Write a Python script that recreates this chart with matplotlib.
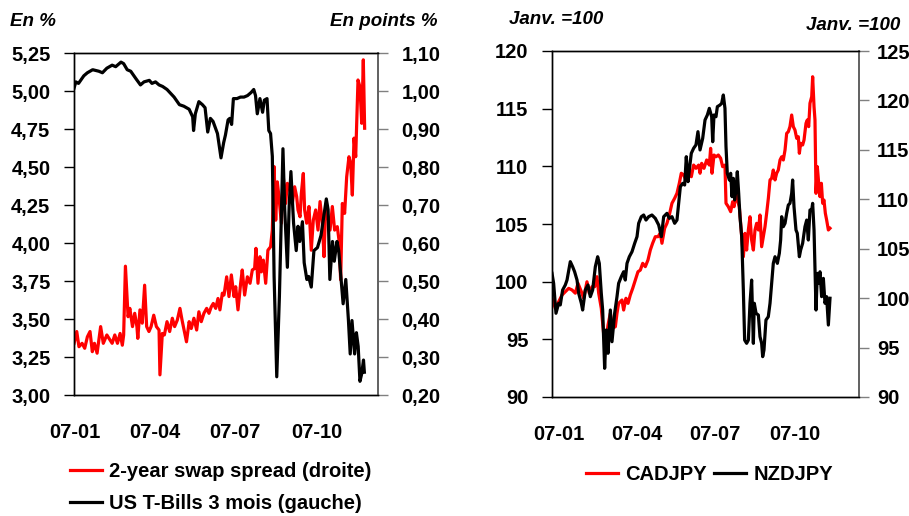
import numpy as np
import matplotlib
matplotlib.use("Agg")
import matplotlib.pyplot as plt
from matplotlib.ticker import FuncFormatter

plt.rcParams['font.family'] = ['Liberation Sans', 'DejaVu Sans']
plt.rcParams['font.weight'] = 'bold'

# x values are days since 2007-01-01
tick_days = [0, 90, 181, 273]
tick_labels = ['07-01', '07-04', '07-07', '07-10']

# US T-Bills 3 mois (left axis, %)
tbill_days = [-1, 1, 4, 10, 14, 20, 27, 31, 36, 42, 46, 52, 55, 59, 63, 69, 74, 78, 84, 87,
              91, 95, 99, 104, 112, 118, 123, 129, 133, 134, 136, 140, 144, 147, 150, 153, 156, 161, 165,
              168, 170, 173, 175, 177, 179, 183, 187, 191, 195, 199, 202, 204, 206, 209, 212, 214, 217,
              219, 221, 223, 225, 228, 231, 233, 235, 237, 240, 242, 244, 247, 250, 252, 254, 257, 259,
              262, 264, 267, 270, 274, 278, 281, 284, 286, 288, 291, 293, 296, 298, 301, 303, 306, 309,
              311, 313, 316, 318, 320, 322, 324, 326, 327]
tbill = [5.02, 5.06, 5.05, 5.10, 5.12, 5.14, 5.13, 5.12, 5.15, 5.17, 5.16, 5.19, 5.18, 5.14, 5.13,
         5.08, 5.04, 5.06, 5.07, 5.05, 5.06, 5.04, 5.03, 5.01, 4.96, 4.91, 4.90, 4.88, 4.83, 4.74,
         4.85, 4.93, 4.91, 4.89, 4.73, 4.82, 4.80, 4.72, 4.56,
         4.66, 4.71, 4.81, 4.82, 4.78, 4.95, 4.95, 4.96, 4.96, 4.97, 4.99, 5.01, 4.97, 4.85, 4.95,
         4.86, 4.94, 4.95, 4.74, 4.72, 4.57, 3.78, 3.12, 3.65, 4.13, 4.62, 4.22, 3.84, 4.24, 4.47,
         4.13, 3.95, 4.11, 4.01, 4.14, 3.87, 3.76, 3.78, 3.71, 3.95, 3.97, 4.05, 4.17, 4.29, 4.22,
         3.76, 4.01, 3.88, 4.01, 3.95, 3.74, 3.60, 3.76, 3.49, 3.27, 3.49, 3.27, 3.41, 3.32, 3.09,
         3.14, 3.23, 3.15]

# 2-year swap spread (right axis, points %)
swap_days = [-1, 2, 4.5, 8, 11, 14, 17, 19.6, 22, 25, 29, 32, 36, 39.5, 42, 45, 48, 51, 53.5, 55,
             57, 60, 62, 65, 67.5, 70, 71, 73.4, 76, 78.7, 81, 83.6, 86, 89, 92, 95, 96, 98.7, 101,
             104, 107, 110, 112.6, 115.6, 118.6, 121, 124, 126, 129, 131.4, 134.4, 137.5, 140, 142.7,
             145.7, 148.8, 151.4, 154, 156.3, 159, 161.6, 163.8, 166.5,
             168.4, 171.4, 174, 176.7, 179.7, 181.6, 184.2, 187.2, 189, 191.7, 194.8, 197.8, 200.4,
             203, 204.5, 206.8, 209, 210.6, 212.8, 215.5, 218, 221, 223, 225, 226.8, 228.6, 230.5,
             233.2, 235.4, 238, 240, 243, 245.6, 248.2, 250.5, 252, 254.3, 255.8, 258, 259.5, 261.8,
             264.4, 267, 269.3, 272, 274.6, 276.9, 279.5, 281.4, 283.3, 285.9, 288.2, 290.8, 293.4,
             296.4, 298.3, 300.2, 302.1, 304.7, 307, 309.6, 311.5, 313.4, 315.3, 317.2, 319.8, 322,
             324, 325.8, 327.3]
swap = [0.336, 0.367, 0.327, 0.336, 0.323, 0.353, 0.367, 0.314, 0.336, 0.310, 0.380, 0.336, 0.358,
        0.345, 0.336, 0.358, 0.336, 0.362, 0.331, 0.358, 0.539, 0.406, 0.428, 0.380, 0.415, 0.380,
        0.349, 0.424, 0.389, 0.489, 0.380, 0.367, 0.380, 0.410, 0.380, 0.371, 0.253, 0.362, 0.358,
        0.393, 0.367, 0.402, 0.380, 0.397, 0.428, 0.397, 0.362, 0.340, 0.393, 0.375, 0.402, 0.371,
        0.419, 0.393, 0.415, 0.428, 0.415, 0.432, 0.441, 0.428, 0.454, 0.424, 0.468,
        0.463, 0.511, 0.459, 0.516, 0.459, 0.485, 0.424, 0.494, 0.529, 0.463, 0.511, 0.494, 0.529,
        0.533, 0.586, 0.494, 0.564, 0.524, 0.555, 0.494, 0.581, 0.590, 0.634, 0.801, 0.660, 0.761,
        0.722, 0.652, 0.774, 0.704, 0.757, 0.739, 0.704, 0.748, 0.722, 0.687, 0.669, 0.731, 0.783,
        0.687, 0.652, 0.696, 0.581, 0.660, 0.687, 0.634, 0.709, 0.652, 0.564, 0.696, 0.669, 0.634,
        0.696, 0.634, 0.643, 0.608, 0.503, 0.704, 0.678, 0.774, 0.827, 0.810, 0.726, 0.876, 0.827,
        1.029, 1.011, 0.915, 1.082, 0.902]

# CADJPY (left axis, Janv.=100)
cad_days = [-8.1, -4.2, -0.4, 3.5, 7.3, 11.2, 15.1, 18.9, 22, 25.9, 28.6, 32.4, 35.1, 38.2, 41.3, 44,
            46, 49, 51.7, 54.5, 56.8, 59.5, 62.2, 65.3, 67.2, 69.1, 73, 74.9, 77.6, 80, 82.6, 85.4,
            88.4, 91.5, 94.2, 97, 100, 103.1, 105.8, 108.5, 111.6, 114.7, 117.4, 119.3, 122.4, 125.1,
            127.8, 130.9, 134, 136.7, 139.4, 141.7, 144.4, 147.1, 150.2, 153.3, 156, 158.7, 161.8,
            163.4, 165.3, 168, 171.1, 174.2, 175.7, 177.3, 179.6, 181.9, 184.6, 187.3, 189.6, 192.3,
            193.5, 196.2, 198.9, 201.2, 202.8, 205.1, 206.6, 208.9, 211.7, 213.6, 215.5, 217.4, 219.4,
            221.3, 223.2, 225.2, 227.1, 229, 231, 232.9, 234.8, 236.8, 238.7, 240.6, 242.6, 244.5,
            246.4, 248.3, 250.3, 252.2, 254.1, 256.1, 258, 259.9, 261.9, 263.8, 265.7, 267.6, 269.6,
            271.5, 273.4, 275.4, 277.3, 278.5, 280, 282.3, 283.9, 286.2, 287.7, 289.3, 290.8, 292.8,
            293.9, 295.5, 296.6, 297.8, 299.3, 300.9, 302.4, 304, 305.5, 307, 308.6, 310.1, 312.1, 314]
cad = [98.56, 97.69, 98.26, 98.84, 99.13, 99.42, 99.28, 99.0, 99.86, 99.13, 98.56, 99.99, 99.0,
       99.56, 99.56, 100.43, 99.0, 97.69, 95.52, 94.94, 96.24, 97.26, 95.96, 96.1, 97.26, 98.12,
       98.41, 97.54, 98.56, 98.12, 98.84, 99.42, 100.14, 100.86, 101.0, 101.59, 101.3, 101.88,
       102.74, 103.33, 103.9, 103.9, 104.2, 103.33, 104.63, 105.06, 105.78, 106.8, 107.23, 107.66,
       108.53, 109.4, 109.25, 108.82, 109.68, 109.1, 110.11, 109.83, 110.11,
       109.4, 110.26, 109.83, 110.55, 110.11, 111.56, 109.4, 110.98, 110.83, 110.98, 110.7, 109.97,
       110.11, 106.8, 106.5, 106.07, 106.93, 106.5, 107.66, 107.08, 106.5, 103.9, 102.16, 104.19,
       102.74, 104.48, 105.63, 103.61, 102.74, 104.48, 105.06, 104.48, 105.78, 103.03, 103.9,
       104.77, 105.93, 107.25, 108.82, 108.96, 109.68, 108.82, 109.4, 109.68, 110.55, 110.83,
       110.55, 111.42, 112.86, 113.0, 113.44, 114.45, 113.44, 113.15, 112.43, 112.57, 111.13, 112.0,
       111.85, 112.28, 113.73, 114.02, 113.44, 115.47, 116.04, 117.77, 115.17, 114.02, 107.66,
       109.97, 108.53, 107.37, 108.53, 106.8, 107.08, 105.93, 105.35, 104.48, 104.63]

# NZDJPY (right axis, Janv.=100)
nzd_days = [-8.1, -6.2, -3.5, -0.4, 1.5, 4.2, 7.3, 9.3, 13.1, 15.8, 18.1, 20.9, 22.8, 25.9, 27.4,
            30.5, 33.6, 36.3, 39, 42.1, 44.8, 46.7, 49, 50.6, 52.9, 54.8, 56.8, 59.5, 61.4, 64.5,
            67.2, 69.1, 72.2, 74.9, 76.8, 78.8, 81.5, 84.6, 87.7, 90.4, 92.3, 95.4, 98.1, 100.8,
            103.9, 107.7, 111.6, 115.5, 118.6, 121.3, 125.1, 127.8, 130.9, 134, 136.7, 138.6, 140.6,
            143.3, 145.6, 147.5, 149.5, 151, 153.3, 156, 158.7, 161,
            163.4, 166.5, 169.2, 171.9, 174.2, 176.9, 178.1, 179.6, 181.9, 183.5, 186.6, 188.5, 190.4,
            192.3, 193.5, 195, 197.4, 198.9, 200.5, 202, 203.5, 205.1, 206.6, 208.2, 209.7, 211.7,
            213.6, 215.1, 217.4, 219.4, 221.3, 223.2, 225.2, 226.3, 228.3, 231, 232.9, 234.8, 236,
            237.5, 239.8, 242.5, 244.5, 246.4, 248.3, 250.3, 253, 255.3, 256.8, 258, 259.9, 261.9,
            263.8, 265.7, 267.6, 269.6, 270.7, 272.3, 274.6, 276.1, 278.5, 280, 282.3, 285, 287,
            288.9, 290.8, 292.8, 293.9, 295.5, 297.8, 299.3, 300.9, 302.4, 304.3, 306.3, 308.2,
            310.1, 312.1, 314]
nzd = [102.51, 101.5, 98.47, 99.48, 99.31, 100.82, 101.33, 101.83, 103.69, 103.18, 102.67, 101.83,
       100.49, 99.48, 98.8, 100.82, 101.33, 100.15, 100.82, 103.18, 104.19, 103.52, 100.49, 98.8,
       92.9, 96.78, 94.42, 98.8, 95.59, 98.47, 100.15, 101.5, 102.17, 102.67, 101.83, 103.52,
       104.19, 104.7, 105.55, 106.22, 107.57, 108.24, 108.41, 107.9, 108.24, 108.41, 108.07, 107.4,
       106.22, 108.24, 108.58, 108.07, 108.24, 107.57, 107.9, 109.59, 111.27, 111.61, 111.44,
       114.31, 111.78, 112.96, 114.65, 115.16, 115.5, 116.84,
       114.99, 116.17, 118.02, 118.53, 119.2, 118.35, 115.82, 118.53, 118.35, 119.37, 119.54,
       119.71, 120.55, 119.2, 115.32, 112.63, 111.95, 112.63, 110.26, 112.12, 109.93, 110.94,
       112.79, 110.6, 108.24, 106.22, 100.82, 95.76, 95.43, 95.76, 99.48, 101.83, 95.43, 99.48,
       98.47, 98.29, 96.1, 95.43, 94.08, 94.75, 97.79, 98.12, 99.48, 101.5, 103.52, 104.19, 103.52,
       104.54, 105.88, 108.24, 107.23, 107.57, 108.58, 109.42, 109.59, 110.6, 111.95, 109.25,
       106.89, 106.56, 104.19, 104.87, 105.55, 107.23, 107.9, 105.88, 108.92, 108.92, 109.59,
       106.89, 98.8, 102.51, 101.5, 102.67, 100.15, 102.0, 99.48, 100.15, 97.28, 99.99]

FS = 14.5
RED = '#ff0000'
LW = 2.3

comma2 = FuncFormatter(lambda v, p: f'{v:.2f}'.replace('.', ','))
int0 = FuncFormatter(lambda v, p: f'{v:.0f}')


def style(ax, axr, xlim, left_ticks, right_ticks, lfmt, rfmt, xpad, rpad):
    ax.set_xlim(*xlim)
    ax.set_xticks(tick_days)
    ax.set_xticklabels(tick_labels)
    ax.tick_params(axis='x', length=0, pad=xpad, labelsize=FS)
    ax.set_ylim(left_ticks[0], left_ticks[-1])
    ax.set_yticks(left_ticks)
    ax.yaxis.set_major_formatter(lfmt)
    ax.tick_params(axis='y', direction='out', length=7, width=1, pad=10,
                   labelsize=FS, color='black')
    axr.set_ylim(right_ticks[0], right_ticks[-1])
    axr.set_yticks(right_ticks)
    axr.yaxis.set_major_formatter(rfmt)
    axr.tick_params(axis='y', direction='out', length=7, width=1, pad=rpad,
                    labelsize=FS, color='#808080')
    for a in (ax, axr):
        for s in ('left', 'top', 'bottom'):
            a.spines[s].set_color('black')
            a.spines[s].set_linewidth(1)
        a.spines['right'].set_color('#606060')
        a.spines['right'].set_linewidth(1.2)


fig = plt.figure(figsize=(9.09, 5.16), dpi=100)

# left panel
ax1 = fig.add_axes([74 / 909, 1 - 395 / 516, 304 / 909, 342 / 516])
ax1r = ax1.twinx()
l_swap, = ax1r.plot(swap_days, swap, color=RED, lw=LW)
l_tb, = ax1.plot(tbill_days, tbill, color='black', lw=LW)
ax1.set_zorder(ax1r.get_zorder() + 1)
ax1.patch.set_visible(False)
style(ax1, ax1r, (-1.1, 342.4), np.arange(3.0, 5.26, 0.25), np.arange(0.2, 1.101, 0.1),
      comma2, comma2, 20, 10)

# right panel
ax2 = fig.add_axes([552 / 909, 1 - 397 / 516, 307 / 909, 346 / 516])
ax2r = ax2.twinx()
l_cad, = ax2.plot(cad_days, cad, color=RED, lw=LW)
l_nzd, = ax2r.plot(nzd_days, nzd, color='black', lw=LW)
style(ax2, ax2r, (-8.1, 347.6), np.arange(90, 121, 5), np.arange(90, 126, 5), int0, int0, 20, 6)

# header texts
tkw = dict(fontsize=13.5, fontweight='bold', style='italic', va='center')
fig.text(10 / 909, 1 - 22 / 516, 'En %', ha='left', **tkw)
fig.text(437 / 909, 1 - 22 / 516, 'En points %', ha='right', **tkw)
fig.text(509 / 909, 1 - 20 / 516, 'Janv. =100', ha='left', **tkw)
fig.text(900 / 909, 1 - 25 / 516, 'Janv. =100', ha='right', **tkw)

# legends
fig.legend([l_swap, l_tb], ['2-year swap spread (droite)', 'US T-Bills 3 mois (gauche)'],
           loc='upper left', bbox_to_anchor=(70 / 909, 1 - 462 / 516), frameon=False,
           fontsize=FS, handlelength=1.6, handletextpad=0.35, labelspacing=0.65,
           borderpad=0, borderaxespad=0)
fig.legend([l_cad, l_nzd], ['CADJPY', 'NZDJPY'], ncol=2,
           loc='upper left', bbox_to_anchor=(586 / 909, 1 - 465 / 516), frameon=False,
           fontsize=FS, handlelength=1.6, handletextpad=0.35, columnspacing=0.35,
           borderpad=0, borderaxespad=0)

fig.savefig('out.png', dpi=100)
